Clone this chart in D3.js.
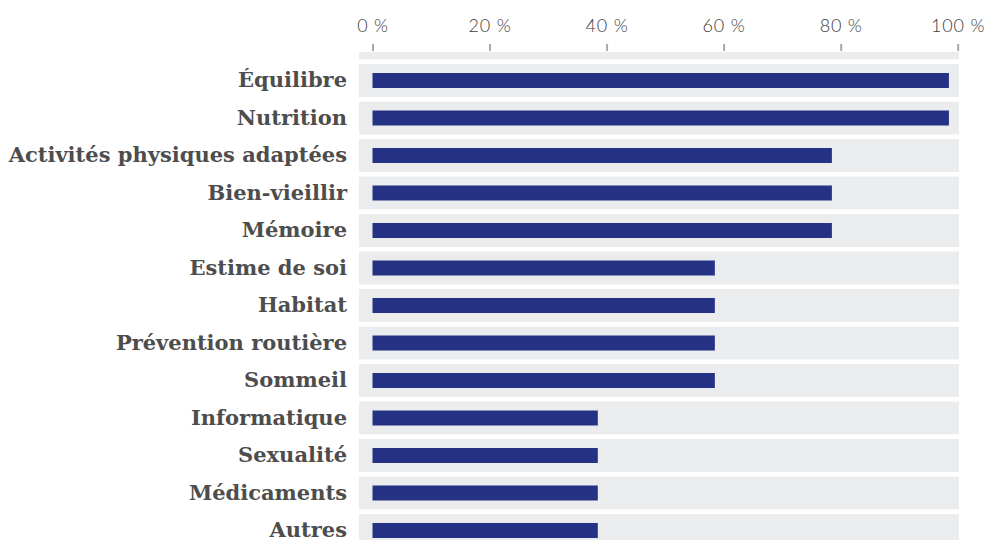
<!DOCTYPE html>
<html>
<head>
<meta charset="utf-8">
<script src="https://cdn.jsdelivr.net/npm/d3@7"></script>
<style>
    body { margin: 0; background: #fff; }
    svg { display: block; }
    .tick-label { font-family: Lato, sans-serif; font-weight: 300; font-size: 18px; letter-spacing: 0.8px; fill: #3d3d3d; }
    .cat-label { font-family: 'DejaVu Serif', serif; font-weight: bold; font-size: 21px; fill: #4d4d4d; }
</style>
</head>
<body>
<div id="chart"></div>
<script>
var categories = ['Équilibre', 'Nutrition', 'Activités physiques adaptées', 'Bien-vieillir', 'Mémoire',
    'Estime de soi', 'Habitat', 'Prévention routière', 'Sommeil', 'Informatique', 'Sexualité',
    'Médicaments', 'Autres'];
var values = [98.5, 98.5, 78.5, 78.5, 78.5, 58.5, 58.5, 58.5, 58.5, 38.5, 38.5, 38.5, 38.5];
var tickValues = [0, 20, 40, 60, 80, 100];

var width = 993,
    height = 540;

var svg = d3.select('#chart').append('svg')
        .attr('width', width)
        .attr('height', height);

var x = d3.scaleLinear().domain([0, 100]).range([372.5, 957.7]);
var y = d3.scaleBand().domain(categories).range([61.75, 61.75 + categories.length * 37.5]).padding(0);

// plot background, white separators between rows
svg.append('rect')
        .attr('x', 359).attr('y', 52)
        .attr('width', 600).attr('height', height - 52)
        .attr('fill', '#ebecee');

svg.selectAll('.sep').data(categories).enter().append('rect')
        .attr('class', 'sep')
        .attr('x', 359)
        .attr('width', 600)
        .attr('y', function(d) { return y(d) - 2.25; })
        .attr('height', 4.5)
        .attr('fill', '#fff');

// top axis
var axis = d3.axisTop(x).tickValues(tickValues).tickSize(7).tickPadding(12)
        .tickFormat(function(d) { return d + ' %'; });
var gx = svg.append('g').attr('transform', 'translate(0,51)').call(axis);
gx.select('.domain').remove();
gx.selectAll('.tick line').attr('stroke', '#a8a8a8').attr('stroke-width', 2);
gx.selectAll('.tick text').attr('class', 'tick-label').attr('fill', null);

// bars
var barH = 15;
svg.selectAll('.bar').data(values).enter().append('rect')
        .attr('class', 'bar')
        .attr('x', x(0))
        .attr('y', function(d, i) { return y(categories[i]) + y.bandwidth() / 2 - barH / 2; })
        .attr('width', function(d) { return x(d) - x(0); })
        .attr('height', barH)
        .attr('fill', '#253284');

// category labels
svg.selectAll('.cat-label').data(categories).enter().append('text')
        .attr('class', 'cat-label')
        .attr('x', 347)
        .attr('y', function(d) { return y(d) + y.bandwidth() / 2; })
        .attr('dy', '0.33em')
        .attr('text-anchor', 'end')
        .text(function(d) { return d; });
</script>
</body>
</html>
